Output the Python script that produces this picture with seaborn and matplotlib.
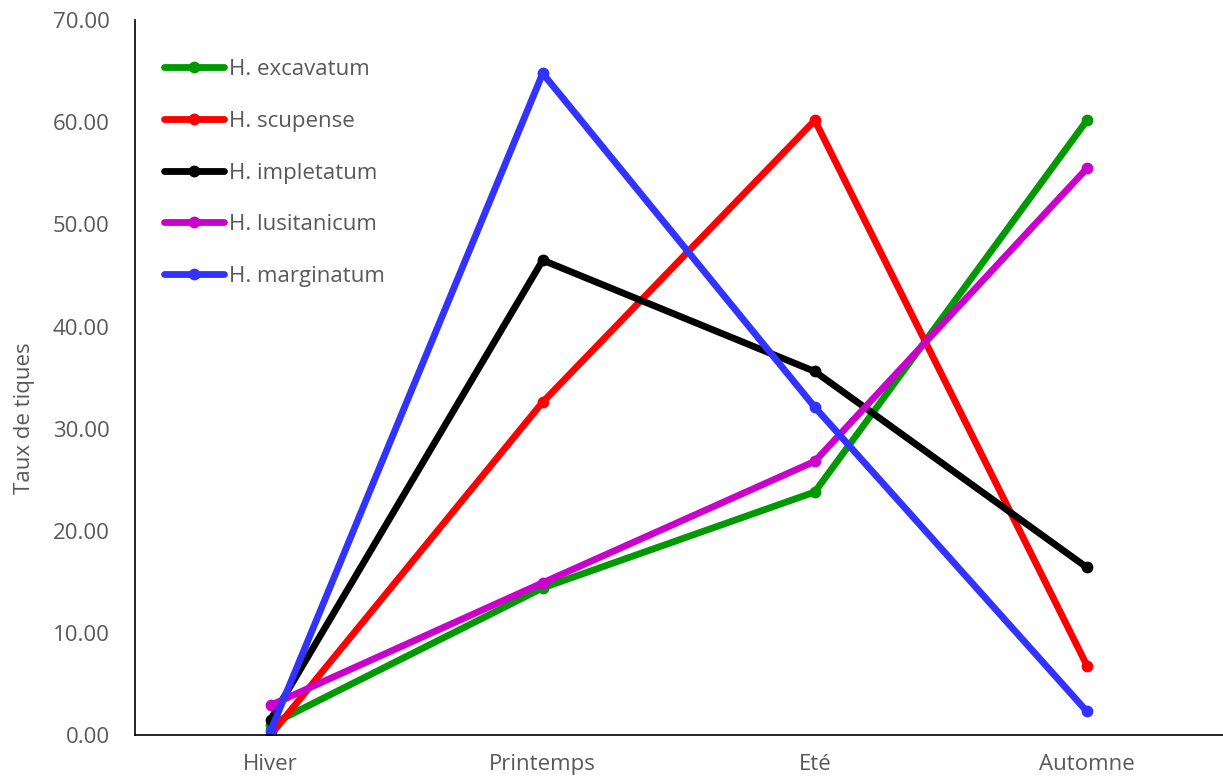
import matplotlib
matplotlib.use("Agg")
import matplotlib.pyplot as plt
import seaborn as sns
import pandas as pd
from matplotlib.ticker import FormatStrFormatter

# Seasonal tick rates per Hyalomma species
seasons = ["Hiver", "Printemps", "Eté", "Automne"]
species = ["H. excavatum", "H. scupense", "H. impletatum", "H. lusitanicum", "H. marginatum"]
excavatum = [1.0, 14.4, 23.8, 60.2]
scupense = [0.0, 32.6, 60.2, 6.8]
impletatum = [1.5, 46.5, 35.6, 16.4]
lusitanicum = [2.9, 14.9, 26.8, 55.5]
marginatum = [0.4, 64.8, 32.1, 2.3]
colors = ["#009900", "#FF0000", "#000000", "#CC00CC", "#3333FF"]

series = [excavatum, scupense, impletatum, lusitanicum, marginatum]
df = pd.DataFrame({
    "Saison": seasons * len(species),
    "Taux": [v for s in series for v in s],
    "Espèce": [sp for sp in species for _ in seasons],
})

sns.set_theme(style="white")
plt.rcParams["font.family"] = ["Open Sans", "DejaVu Sans"]

FS = 16
GREY = "#595959"

fig = plt.figure(figsize=(12.23, 7.81), dpi=100)
ax = fig.add_axes([0.110, 0.059, 0.890, 0.915])

sns.lineplot(
    data=df, x="Saison", y="Taux", hue="Espèce",
    hue_order=species, palette=dict(zip(species, colors)),
    marker="o", markersize=8.5, markeredgewidth=0,
    linewidth=4.9, sort=False, ax=ax,
)

ax.set_xlim(-0.5, 3.5)
ax.set_ylim(0, 70)
ax.set_yticks(range(0, 71, 10))
ax.yaxis.set_major_formatter(FormatStrFormatter("%.2f"))
ax.set_xlabel("")
ax.set_ylabel("Taux de tiques", color=GREY, fontsize=FS)
ax.yaxis.set_label_coords(-0.0915, 0.443)
ax.tick_params(axis="both", length=0, labelcolor=GREY, labelsize=FS)
ax.tick_params(axis="x", pad=14)
ax.tick_params(axis="y", pad=18)

for side in ["top", "right"]:
    ax.spines[side].set_visible(False)
for side in ["left", "bottom"]:
    ax.spines[side].set_color("black")
    ax.spines[side].set_linewidth(1.2)

handles, labels = ax.get_legend_handles_labels()
leg = ax.legend(
    handles, labels, loc="upper left", bbox_to_anchor=(0.0193, 0.958),
    frameon=False, fontsize=FS, labelspacing=1.38,
    handlelength=2.7, handletextpad=0.22, borderaxespad=0,
)
for t in leg.get_texts():
    t.set_color(GREY)

fig.savefig("out.png", dpi=100)
